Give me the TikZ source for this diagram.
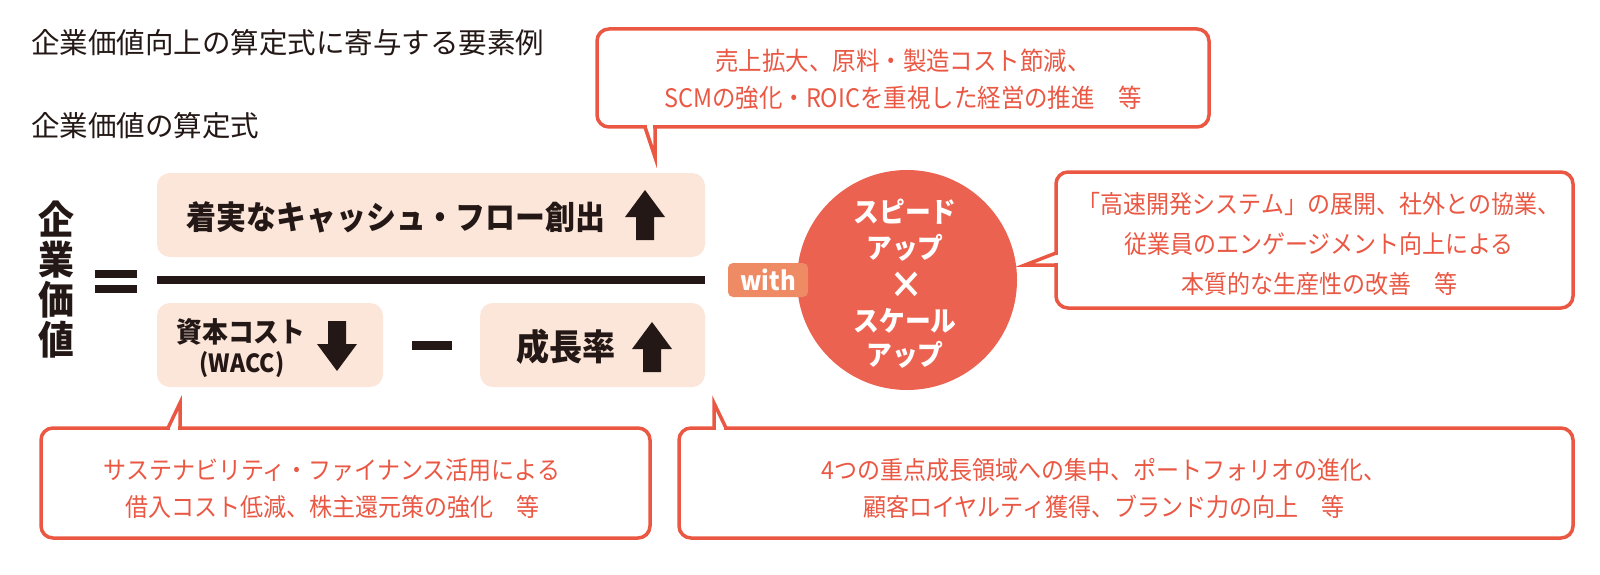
\documentclass[tikz,border=0pt]{standalone}
\usepackage{fontspec}
\setmainfont{Noto Sans CJK JP}
\newfontfamily\jpr{Noto Sans CJK JP}
\newfontfamily\jpc{Noto Sans CJK JP}[FakeStretch=0.92]
\newfontfamily\jpb{Noto Sans CJK JP}[FakeStretch=0.92]
\definecolor{coral}{RGB}{234,88,68}
\definecolor{circ}{RGB}{236,98,80}
\definecolor{withc}{RGB}{238,138,100}
\definecolor{peach}{RGB}{252,229,217}
\definecolor{ink}{RGB}{35,24,21}
\tikzset{
  callbox/.style={draw=coral, line width=3.5pt, rounded corners=12pt, fill=white, inner sep=0pt},
  calltext/.style={text=coral, font=\jpc\fontsize{25}{37}\selectfont, align=center, inner sep=0pt},
  formbox/.style={fill=peach, rounded corners=13pt, inner sep=0pt},
  formtext/.style={text=ink, inner sep=0pt, align=center},
  circtext/.style={text=white, inner sep=0pt, font=\jpb\bfseries\fontsize{28}{28}\selectfont},
  tailedge/.style={draw=coral, line width=3.5pt, line join=miter, miter limit=20},
  erase/.style={fill=white},
  bar/.style={fill=ink, inner sep=0pt},
  titletext/.style={anchor=west, inner sep=0pt, text=ink, font=\jpr\fontsize{28.5}{30}\selectfont},
  uparrow/.pic={\fill[ink] (-9,25) -- (-9,2) -- (-20,2) -- (0,-25) -- (20,2) -- (9,2) -- (9,25) -- cycle;}
}
\begin{document}
\begin{tikzpicture}[x=1pt,y=-1pt]
\useasboundingbox[fill=white] (0,0) rectangle (1600,575);

% titles
\node[titletext] (title) at (31,43) {企業価値向上の算定式に寄与する要素例};
\node[titletext] (sub) at (31,126) {企業価値の算定式};

% left side: 企業価値 =
\node[formtext, font=\jpb\bfseries\fontsize{39}{40}\selectfont] (kv) at (56,280) {企\\業\\価\\値};
\node[bar, minimum width=42pt, minimum height=8pt] (eqa) at (116,274) {};
\node[bar, minimum width=42pt, minimum height=8pt] (eqb) at (116,289) {};

% fraction
\node[formbox, minimum width=548pt, minimum height=84pt] (btop) at (431,215) {};
\node[formtext, font=\jpb\bfseries\fontsize{32.5}{33}\selectfont] (tcash) at (396,217) {着実なキャッシュ・フロー創出};
\pic at (645,215) {uparrow};
\node[bar, minimum width=548pt, minimum height=8pt] (frac) at (431,280) {};
\node[formbox, minimum width=226pt, minimum height=84pt] (bcost) at (270,345) {};
\node[formtext, font=\jpb\bfseries\fontsize{28}{28}\selectfont] (tcost) at (241,332) {資本コスト};
\node[formtext, font=\jpb\bfseries\fontsize{25}{25}\selectfont] (twacc) at (242,365) {(WACC)};
\pic[rotate=180] at (337,346) {uparrow};
\node[bar, minimum width=40pt, minimum height=9pt] (minus) at (432,345) {};
\node[formbox, minimum width=225pt, minimum height=84pt] (bgrow) at (592.5,345) {};
\node[formtext, font=\jpb\bfseries\fontsize{36}{36}\selectfont] (tgrow) at (566,347) {成長率};
\pic at (652,347) {uparrow};

% circle and with
\node[circle, fill=circ, minimum size=220pt, inner sep=0pt] (spd) at (907,280) {};
\node[circtext] (s1) at (905,212) {スピード};
\node[circtext] (s2) at (905,248) {アップ};
\node[circtext, anchor=base, font=\jpb\bfseries\fontsize{37}{37}\selectfont] (s3) at (907,298) {×};
\node[circtext] (s4) at (905,321) {スケール};
\node[circtext] (s5) at (905,355) {アップ};
\node[fill=withc, rounded corners=5pt, minimum width=80pt, minimum height=34pt, inner sep=0pt,
  text=white, font=\jpb\bfseries\fontsize{26}{26}\selectfont] (with) at (768,280) {with};

% top callout
\node[callbox, minimum width=612pt, minimum height=98pt] (ctop) at (903,78) {};
\node[calltext, font=\jpc\fontsize{25.5}{37}\selectfont] (ttop) at (903,79.5) {売上拡大、原料・製造コスト節減、\\SCMの強化・ROICを重視した経営の推進　等};
\coordinate (ttip) at (655,157);
\fill[erase] (646.8,124.5) rectangle (653.2,129.5);
\draw[tailedge] (645,127) -- (ttip) -- (655,127);

% right callout
\node[callbox, minimum width=517pt, minimum height=136pt] (cright) at (1314.5,240) {};
\node[calltext, font=\jpc\fontsize{25}{40}\selectfont] (tright) at (1319,244) {「高速開発システム」の展開、社外との協業、\\従業員のエンゲージメント向上による\\本質的な生産性の改善　等};
\coordinate (rtip) at (1025,265);
\fill[erase] (1053.5,254.8) rectangle (1058.5,263.2);
\draw[tailedge] (1056,253) -- (rtip) -- (1056,265);

% bottom-left callout
\node[callbox, minimum width=609pt, minimum height=110pt] (cbl) at (345.5,483) {};
\node[calltext] (tbl) at (332,488.5) {サステナビリティ・ファイナンス活用による\\借入コスト低減、株主還元策の強化　等};
\coordinate (bltip) at (180,403);
\fill[erase] (169.8,425.5) rectangle (178.2,430.5);
\draw[tailedge] (168,428) -- (bltip) -- (180,428);

% bottom-right callout
\node[callbox, minimum width=894pt, minimum height=110pt] (cbr) at (1126,483) {};
\node[calltext] (tbr) at (1104,488.5) {4つの重点成長領域への集中、ポートフォリオの進化、\\顧客ロイヤルティ獲得、ブランド力の向上　等};
\coordinate (brtip) at (714,403);
\fill[erase] (715.8,425.5) rectangle (724.2,430.5);
\draw[tailedge] (714,428) -- (brtip) -- (726,428);
\end{tikzpicture}
\end{document}
